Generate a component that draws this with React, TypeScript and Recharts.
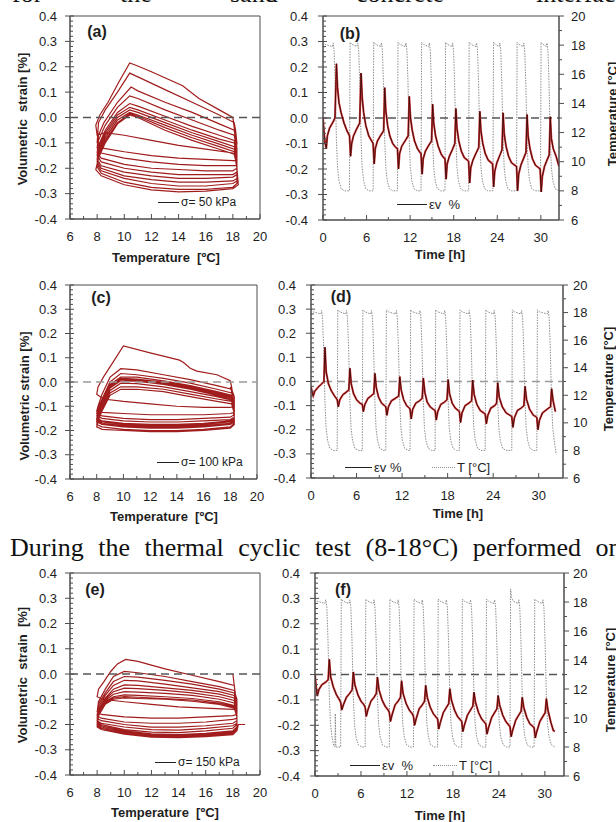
import React from 'react'
import { ComposedChart, Line, XAxis, YAxis, ReferenceLine, ReferenceArea } from 'recharts'

type P = [number, number]

// (a) sigma = 50 kPa : temperature [C] vs volumetric strain [%]
const loop50: P[] = [
  [18.0, 0.0], [18.2, -0.06], [18.25, -0.12], [18.15, -0.06], [18.0, 0.0],
  [17.0, 0.03], [15.5, 0.075], [14.3, 0.125], [12.0, 0.18], [10.9, 0.205], [10.4, 0.215], [9.6, 0.14], [8.8, 0.06], [8.2, 0.01], [7.9, -0.03], [8.0, -0.07],
  [8.6, -0.06], [10, -0.07], [12, -0.09], [14, -0.11], [16, -0.125], [18.0, -0.14], [18.2, -0.15],
  [18.3, -0.1], [18.2, -0.05], [18.1, -0.02],
  [17, 0.01], [15, 0.06], [13, 0.11], [11, 0.16], [10.4, 0.175], [9.5, 0.1], [8.6, 0.03], [8.1, -0.02], [8.0, -0.1],
  [8.3, -0.12], [10, -0.135], [12, -0.15], [14, -0.16], [16, -0.165], [18.0, -0.17], [18.3, -0.17],
  [18.3, -0.12], [18.1, -0.05],
  [17, -0.025], [15, 0.02], [13, 0.06], [11, 0.105], [10.5, 0.12], [9.5, 0.06], [8.5, -0.02], [8.1, -0.07], [8.0, -0.12],
  [8.3, -0.14], [10, -0.16], [12, -0.175], [14, -0.185], [16, -0.19], [18, -0.19], [18.3, -0.19],
  [18.3, -0.13], [18.1, -0.07],
  [17, -0.05], [15, -0.01], [13, 0.03], [11, 0.075], [10.4, 0.085], [9.5, 0.04], [8.6, -0.03], [8.1, -0.09], [8.0, -0.14],
  [8.3, -0.16], [10, -0.185], [12, -0.2], [14, -0.205], [16, -0.21], [18, -0.21], [18.3, -0.2],
  [18.3, -0.14], [18.1, -0.09],
  [17, -0.07], [15, -0.035], [13, 0.005], [11, 0.045], [10.4, 0.055], [9.5, 0.02], [8.6, -0.05], [8.1, -0.11], [8.0, -0.15],
  [8.3, -0.175], [10, -0.2], [12, -0.215], [14, -0.225], [16, -0.225], [18, -0.225], [18.3, -0.215],
  [18.3, -0.15], [18.1, -0.1],
  [17, -0.085], [15, -0.05], [13, -0.01], [11, 0.03], [10.4, 0.04], [9.5, 0.01], [8.6, -0.06], [8.1, -0.12], [8.0, -0.165],
  [8.3, -0.19], [10, -0.215], [12, -0.23], [14, -0.24], [16, -0.24], [18, -0.235], [18.3, -0.225],
  [18.3, -0.16], [18.1, -0.115],
  [17, -0.095], [15, -0.06], [13, -0.02], [11, 0.02], [10.4, 0.03], [9.5, 0.0], [8.6, -0.07], [8.1, -0.13], [8.0, -0.175],
  [8.3, -0.2], [10, -0.23], [12, -0.245], [14, -0.255], [16, -0.255], [18, -0.25], [18.3, -0.24],
  [18.3, -0.17], [18.1, -0.125],
  [17, -0.105], [15, -0.07], [13, -0.03], [11, 0.01], [10.4, 0.02], [9.5, -0.01], [8.6, -0.08], [8.1, -0.14], [8.0, -0.185],
  [8.3, -0.21], [10, -0.24], [12, -0.26], [14, -0.27], [16, -0.27], [18, -0.26], [18.3, -0.25],
  [18.3, -0.18], [18.1, -0.135],
  [17, -0.115], [15, -0.08], [13, -0.04], [11, 0.005], [10.4, 0.015], [9.5, -0.02], [8.6, -0.09], [8.1, -0.15], [8.0, -0.195],
  [8.3, -0.22], [10, -0.255], [12, -0.275], [14, -0.283], [16, -0.283], [18, -0.275], [18.3, -0.26],
  [18.3, -0.19], [18.1, -0.145],
  [17, -0.125], [15, -0.09], [13, -0.05], [11, 0.0], [10.4, 0.01], [9.5, -0.025], [8.6, -0.1], [8.1, -0.16], [7.9, -0.205],
  [8.3, -0.23], [10, -0.265], [12, -0.285], [14, -0.293], [16, -0.29], [18, -0.28], [18.4, -0.265],
  [18.3, -0.2], [18.2, -0.17],
]

// (b) strain and temperature vs time [h]
const strain50: P[] = [
  [0, 0.0], [0.15, -0.06], [0.3, -0.1], [0.45, -0.12], [0.6, -0.07], [0.9, -0.04], [1.3, -0.02], [1.65, 0.0],
  [1.85, 0.213], [2.0, 0.12], [2.2, 0.06], [2.5, 0.02], [2.9, -0.02], [3.3, -0.05], [3.65, -0.07], [3.8, -0.15],
  [3.95, -0.1], [4.2, -0.07], [4.6, -0.045], [5.05, -0.02], [5.24, 0.176], [5.4, 0.08], [5.6, 0.02], [5.9, -0.03], [6.3, -0.07], [6.7, -0.09], [6.9, -0.1], [7.05, -0.18],
  [7.2, -0.12], [7.5, -0.09], [7.9, -0.07], [8.35, -0.05], [8.5, 0.119], [8.65, 0.03], [8.9, -0.03], [9.2, -0.07], [9.6, -0.1], [10.0, -0.115], [10.25, -0.12], [10.4, -0.2],
  [10.55, -0.14], [10.85, -0.11], [11.3, -0.09], [11.73, -0.07], [11.88, 0.085], [12.05, 0.0], [12.3, -0.05], [12.6, -0.09], [13.0, -0.12], [13.35, -0.135], [13.5, -0.14], [13.65, -0.22],
  [13.8, -0.16], [14.1, -0.13], [14.5, -0.11], [14.95, -0.09], [15.1, 0.054], [15.25, -0.02], [15.5, -0.07], [15.85, -0.11], [16.25, -0.14], [16.6, -0.155], [16.8, -0.16], [16.95, -0.24],
  [17.1, -0.18], [17.4, -0.15], [17.8, -0.125], [18.15, -0.1], [18.3, 0.037], [18.45, -0.04], [18.7, -0.09], [19.05, -0.13], [19.45, -0.155], [19.85, -0.165], [20.05, -0.17], [20.2, -0.255],
  [20.35, -0.195], [20.65, -0.165], [21.05, -0.14], [21.45, -0.115], [21.6, 0.026], [21.75, -0.05], [22.0, -0.1], [22.35, -0.14], [22.75, -0.165], [23.15, -0.175], [23.35, -0.18], [23.5, -0.27],
  [23.65, -0.21], [23.95, -0.175], [24.3, -0.15], [24.65, -0.125], [24.8, 0.02], [24.95, -0.06], [25.2, -0.11], [25.55, -0.15], [25.95, -0.175], [26.4, -0.185], [26.65, -0.19], [26.8, -0.285],
  [26.95, -0.22], [27.25, -0.185], [27.6, -0.16], [27.95, -0.135], [28.1, 0.014], [28.25, -0.07], [28.5, -0.12], [28.85, -0.16], [29.25, -0.185], [29.7, -0.195], [29.9, -0.2], [30.05, -0.29],
  [30.2, -0.23], [30.5, -0.19], [30.85, -0.165], [31.15, -0.145], [31.3, 0.005], [31.45, -0.08], [31.7, -0.12], [32.1, -0.15], [32.5, -0.19],
]
const temp50: P[] = [
  [0, 18.2], [0.3, 18.05], [1.3, 17.9], [1.4, 18.15], [1.53, 17.6], [1.67, 15.5], [1.85, 11.5], [2.0, 9.6], [2.2, 8.7], [2.5, 8.15], [2.95, 8.0],
  [3.65, 8.0], [3.73, 18.2], [4.0, 18.05], [4.69, 17.9], [4.79, 18.15], [4.92, 17.6], [5.06, 15.5], [5.24, 11.5], [5.39, 9.6], [5.59, 8.7], [5.89, 8.15], [6.34, 8.0],
  [6.9, 8.0], [6.98, 18.2], [7.25, 18.05], [7.95, 17.9], [8.05, 18.15], [8.18, 17.6], [8.32, 15.5], [8.5, 11.5], [8.65, 9.6], [8.85, 8.7], [9.15, 8.15], [9.6, 8.0],
  [10.25, 8.0], [10.33, 18.2], [10.6, 18.05], [11.33, 17.9], [11.43, 18.15], [11.56, 17.6], [11.7, 15.5], [11.88, 11.5], [12.03, 9.6], [12.23, 8.7], [12.53, 8.15], [12.98, 8.0],
  [13.5, 8.0], [13.58, 18.2], [13.85, 18.05], [14.55, 17.9], [14.65, 18.15], [14.78, 17.6], [14.92, 15.5], [15.1, 11.5], [15.25, 9.6], [15.45, 8.7], [15.75, 8.15], [16.2, 8.0],
  [16.8, 8.0], [16.88, 18.2], [17.15, 18.05], [17.75, 17.9], [17.85, 18.15], [17.98, 17.6], [18.12, 15.5], [18.3, 11.5], [18.45, 9.6], [18.65, 8.7], [18.95, 8.15], [19.4, 8.0],
  [20.05, 8.0], [20.13, 18.2], [20.4, 18.05], [21.05, 17.9], [21.15, 18.15], [21.28, 17.6], [21.42, 15.5], [21.6, 11.5], [21.75, 9.6], [21.95, 8.7], [22.25, 8.15], [22.7, 8.0],
  [23.4, 8.0], [23.48, 18.2], [23.75, 18.05], [24.25, 17.9], [24.35, 18.15], [24.48, 17.6], [24.62, 15.5], [24.8, 11.5], [24.95, 9.6], [25.15, 8.7], [25.45, 8.15], [25.9, 8.0],
  [26.65, 8.0], [26.73, 18.2], [27.0, 18.05], [27.55, 17.9], [27.65, 18.15], [27.78, 17.6], [27.92, 15.5], [28.1, 11.5], [28.25, 9.6], [28.45, 8.7], [28.75, 8.15], [29.2, 8.0],
  [29.95, 8.0], [30.03, 18.2], [30.3, 18.05], [30.75, 17.9], [30.85, 18.15], [30.98, 17.6], [31.12, 15.5], [31.3, 11.5], [31.45, 9.6], [31.65, 8.7], [31.95, 8.15], [32.5, 8.0],
]

// (c) sigma = 100 kPa
const loop100: P[] = [
  [18.0, -0.02], [18.2, -0.06], [18.1, -0.02], [18.0, 0.005],
  [17, 0.03], [15.5, 0.045], [15, 0.057], [14.5, 0.08], [14.2, 0.09], [12, 0.12], [10, 0.149], [9.2, 0.08], [8.5, 0.02], [8.1, -0.02], [8.0, -0.05],
  [8.5, -0.07], [10, -0.08], [12, -0.09], [14, -0.1], [16, -0.105], [18, -0.105], [18.3, -0.1],
  [18.3, -0.06], [18.1, -0.03],
  [17, -0.015], [15, 0.01], [13, 0.03], [11, 0.05], [9.8, 0.055], [9, 0.02], [8.4, -0.05], [8.1, -0.1], [8.0, -0.12],
  [8.4, -0.125], [10, -0.13], [12, -0.135], [14, -0.135], [16, -0.135], [18, -0.13], [18.3, -0.125],
  [18.3, -0.08], [18.1, -0.045],
  [17, -0.03], [15, -0.005], [13, 0.015], [11, 0.03], [9.8, 0.035], [9, 0.0], [8.4, -0.07], [8.1, -0.11], [8.0, -0.13],
  [8.4, -0.14], [10, -0.15], [12, -0.155], [14, -0.155], [16, -0.15], [18, -0.145], [18.3, -0.135],
  [18.3, -0.09], [18.1, -0.055],
  [17, -0.04], [15, -0.015], [13, 0.005], [11, 0.02], [9.8, 0.02], [9, -0.01], [8.4, -0.08], [8.1, -0.12], [8.0, -0.14],
  [8.4, -0.15], [10, -0.16], [12, -0.165], [14, -0.165], [16, -0.16], [18, -0.155], [18.3, -0.145],
  [18.3, -0.1], [18.1, -0.06],
  [17, -0.045], [15, -0.02], [13, 0.0], [11, 0.012], [9.8, 0.015], [9, -0.015], [8.4, -0.09], [8.1, -0.13], [8.0, -0.15],
  [8.4, -0.16], [10, -0.17], [12, -0.175], [14, -0.175], [16, -0.17], [18, -0.16], [18.3, -0.15],
  [18.3, -0.105], [18.1, -0.065],
  [17, -0.05], [15, -0.025], [13, -0.005], [11, 0.007], [9.8, 0.01], [9, -0.02], [8.4, -0.095], [8.1, -0.135], [8.0, -0.155],
  [8.4, -0.165], [10, -0.175], [12, -0.18], [14, -0.18], [16, -0.175], [18, -0.165], [18.3, -0.155],
  [18.3, -0.11], [18.1, -0.07],
  [17, -0.055], [15, -0.03], [13, -0.01], [11, 0.003], [9.8, 0.005], [9, -0.025], [8.4, -0.1], [8.1, -0.14], [8.0, -0.16],
  [8.4, -0.17], [10, -0.18], [12, -0.185], [14, -0.185], [16, -0.18], [18, -0.17], [18.3, -0.16],
  [18.3, -0.115], [18.1, -0.075],
  [17, -0.06], [15, -0.04], [13, -0.02], [11, -0.007], [9.8, -0.005], [9, -0.035], [8.4, -0.105], [8.1, -0.145], [8.0, -0.165],
  [8.4, -0.175], [10, -0.185], [12, -0.19], [14, -0.19], [16, -0.185], [18, -0.175], [18.3, -0.165],
  [18.3, -0.12], [18.1, -0.08],
  [17, -0.07], [15, -0.05], [13, -0.03], [11, -0.02], [9.8, -0.02], [9, -0.045], [8.4, -0.11], [8.1, -0.15], [8.0, -0.175],
  [8.4, -0.185], [10, -0.195], [12, -0.2], [14, -0.2], [16, -0.195], [18, -0.185], [18.3, -0.17],
  [18.3, -0.13], [18.1, -0.09],
  [17, -0.08], [15, -0.06], [13, -0.04], [11, -0.03], [9.8, -0.03], [9, -0.055], [8.4, -0.12], [8.1, -0.16], [8.0, -0.185],
  [8.4, -0.195], [10, -0.2], [12, -0.205], [14, -0.205], [16, -0.2], [18, -0.19], [18.3, -0.175],
  [18.3, -0.14], [18.2, -0.125],
]

// (d)
const strain100: P[] = [
  [0, -0.02], [0.15, -0.045], [0.3, -0.06], [0.5, -0.04], [0.9, -0.025], [1.4, -0.01], [1.7, 0.0], [1.84, 0.142], [2.0, 0.04], [2.3, -0.01], [2.7, -0.04], [3.1, -0.06], [3.45, -0.075], [3.6, -0.105],
  [3.8, -0.075], [4.2, -0.055], [4.6, -0.045], [4.98, -0.035], [5.13, 0.055], [5.3, -0.01], [5.6, -0.05], [6.0, -0.075], [6.45, -0.09], [6.75, -0.095], [6.9, -0.125],
  [7.1, -0.095], [7.5, -0.07], [7.9, -0.06], [8.27, -0.05], [8.42, 0.034], [8.6, -0.025], [8.9, -0.065], [9.3, -0.09], [9.7, -0.1], [9.85, -0.105], [10.0, -0.14],
  [10.2, -0.105], [10.6, -0.08], [11.1, -0.07], [11.55, -0.06], [11.7, 0.02], [11.88, -0.035], [12.2, -0.075], [12.6, -0.1], [12.95, -0.11], [13.05, -0.115], [13.2, -0.155],
  [13.4, -0.115], [13.8, -0.09], [14.3, -0.08], [14.65, -0.07], [14.8, 0.014], [15.0, -0.045], [15.3, -0.085], [15.7, -0.105], [16.1, -0.115], [16.35, -0.12], [16.5, -0.16],
  [16.7, -0.125], [17.1, -0.095], [17.6, -0.085], [17.92, -0.075], [18.07, 0.008], [18.25, -0.05], [18.6, -0.09], [19.0, -0.11], [19.4, -0.12], [19.55, -0.125], [19.7, -0.17],
  [19.9, -0.13], [20.3, -0.1], [20.8, -0.09], [21.15, -0.08], [21.3, 0.006], [21.5, -0.055], [21.85, -0.095], [22.3, -0.12], [22.75, -0.13], [22.95, -0.135], [23.1, -0.175],
  [23.3, -0.14], [23.7, -0.11], [24.2, -0.1], [24.45, -0.09], [24.6, -0.005], [24.8, -0.065], [25.2, -0.105], [25.7, -0.13], [26.2, -0.14], [26.45, -0.145], [26.6, -0.19],
  [26.8, -0.15], [27.2, -0.12], [27.7, -0.11], [28.05, -0.1], [28.2, -0.02], [28.4, -0.075], [28.8, -0.115], [29.3, -0.14], [29.6, -0.145], [29.75, -0.15], [29.9, -0.2],
  [30.1, -0.16], [30.5, -0.13], [31.1, -0.115], [31.55, -0.105], [31.7, -0.03], [31.9, -0.08], [32.2, -0.125],
]
const temp100: P[] = [
  [0, 18.2], [0.3, 18.05], [1.3, 17.9], [1.4, 18.15], [1.52, 17.6], [1.66, 15.5], [1.84, 11.5], [1.99, 9.6], [2.19, 8.7], [2.49, 8.15], [2.94, 8.0],
  [3.45, 8.0], [3.53, 18.2], [3.8, 18.05], [4.58, 17.9], [4.68, 18.15], [4.81, 17.6], [4.95, 15.5], [5.13, 11.5], [5.28, 9.6], [5.48, 8.7], [5.78, 8.15], [6.23, 8.0],
  [6.75, 8.0], [6.83, 18.2], [7.1, 18.05], [7.87, 17.9], [7.97, 18.15], [8.1, 17.6], [8.24, 15.5], [8.42, 11.5], [8.57, 9.6], [8.77, 8.7], [9.07, 8.15], [9.52, 8.0],
  [9.85, 8.0], [9.93, 18.2], [10.2, 18.05], [11.15, 17.9], [11.25, 18.15], [11.38, 17.6], [11.52, 15.5], [11.7, 11.5], [11.85, 9.6], [12.05, 8.7], [12.35, 8.15], [12.8, 8.0],
  [13.05, 8.0], [13.13, 18.2], [13.4, 18.05], [14.25, 17.9], [14.35, 18.15], [14.48, 17.6], [14.62, 15.5], [14.8, 11.5], [14.95, 9.6], [15.15, 8.7], [15.45, 8.15], [15.9, 8.0],
  [16.35, 8.0], [16.43, 18.2], [16.7, 18.05], [17.52, 17.9], [17.62, 18.15], [17.75, 17.6], [17.89, 15.5], [18.07, 11.5], [18.22, 9.6], [18.42, 8.7], [18.72, 8.15], [19.17, 8.0],
  [19.55, 8.0], [19.63, 18.2], [19.9, 18.05], [20.75, 17.9], [20.85, 18.15], [20.98, 17.6], [21.12, 15.5], [21.3, 11.5], [21.45, 9.6], [21.65, 8.7], [21.95, 8.15], [22.4, 8.0],
  [22.95, 8.0], [23.03, 18.2], [23.3, 18.05], [24.05, 17.9], [24.15, 18.15], [24.28, 17.6], [24.42, 15.5], [24.6, 11.5], [24.75, 9.6], [24.95, 8.7], [25.25, 8.15], [25.7, 8.0],
  [26.45, 8.0], [26.53, 18.2], [26.8, 18.05], [27.65, 17.9], [27.75, 18.15], [27.88, 17.6], [28.02, 15.5], [28.2, 11.5], [28.35, 9.6], [28.55, 8.7], [28.85, 8.15], [29.3, 8.0],
  [29.75, 8.0], [29.83, 18.2], [30.1, 18.05], [31.15, 17.9], [31.25, 18.15], [31.38, 17.6], [31.52, 15.5], [31.7, 11.5], [31.85, 9.6], [32.05, 8.7], [32.3, 7.7],
]

// (e) sigma = 150 kPa
const loop150: P[] = [
  [18.0, 0.0], [18.2, -0.085], [18.1, -0.045],
  [17, -0.03], [15, -0.005], [13, 0.02], [11, 0.05], [10.1, 0.058], [9.5, 0.04], [9, 0.01], [8.5, -0.03], [8.1, -0.06], [8.0, -0.09],
  [8.4, -0.1], [10, -0.11], [12, -0.12], [14, -0.13], [16, -0.135], [18, -0.14], [18.3, -0.14],
  [18.3, -0.1], [18.1, -0.065],
  [17, -0.05], [15, -0.03], [13, -0.01], [11, 0.005], [10, 0.01], [9.2, -0.01], [8.6, -0.06], [8.1, -0.11], [8.0, -0.15],
  [8.3, -0.16], [10, -0.17], [12, -0.175], [14, -0.175], [16, -0.17], [18, -0.165], [18.3, -0.16],
  [18.3, -0.115], [18.1, -0.075],
  [17, -0.06], [15, -0.04], [13, -0.025], [11, -0.012], [10, -0.01], [9.2, -0.03], [8.6, -0.075], [8.1, -0.12], [8.0, -0.165],
  [8.3, -0.175], [10, -0.19], [12, -0.195], [14, -0.195], [16, -0.19], [18, -0.18], [18.3, -0.175],
  [18.3, -0.125], [18.1, -0.085],
  [17, -0.07], [15, -0.055], [13, -0.04], [11, -0.027], [10, -0.025], [9.2, -0.045], [8.6, -0.085], [8.1, -0.13], [8.0, -0.175],
  [8.3, -0.185], [10, -0.2], [12, -0.21], [14, -0.21], [16, -0.205], [18, -0.195], [18.3, -0.185],
  [18.3, -0.135], [18.1, -0.095],
  [17, -0.08], [15, -0.065], [13, -0.055], [11, -0.045], [10, -0.043], [9.2, -0.06], [8.6, -0.095], [8.1, -0.14], [8.0, -0.185],
  [8.3, -0.195], [10, -0.21], [12, -0.22], [14, -0.222], [16, -0.215], [18, -0.205], [18.3, -0.195],
  [18.3, -0.145], [18.1, -0.105],
  [17, -0.09], [15, -0.075], [13, -0.065], [11, -0.058], [10, -0.056], [9.2, -0.07], [8.6, -0.1], [8.1, -0.145], [8.0, -0.19],
  [8.3, -0.2], [10, -0.22], [12, -0.23], [14, -0.232], [16, -0.225], [18, -0.215], [18.3, -0.2],
  [18.3, -0.15], [18.1, -0.115],
  [17, -0.1], [15, -0.085], [13, -0.077], [11, -0.072], [10, -0.07], [9.2, -0.08], [8.6, -0.105], [8.1, -0.15], [8.0, -0.195],
  [8.3, -0.205], [10, -0.225], [12, -0.237], [14, -0.24], [16, -0.235], [18, -0.225], [18.3, -0.21],
  [18.3, -0.16], [18.1, -0.125],
  [17, -0.11], [15, -0.097], [13, -0.09], [11, -0.085], [10, -0.083], [9.2, -0.09], [8.6, -0.11], [8.1, -0.155], [8.0, -0.2],
  [8.3, -0.21], [10, -0.23], [12, -0.242], [14, -0.245], [16, -0.24], [18, -0.23], [18.3, -0.215],
  [18.3, -0.165], [18.1, -0.13],
  [17, -0.115], [15, -0.103], [13, -0.097], [11, -0.092], [10, -0.09], [9.2, -0.095], [8.6, -0.115], [8.1, -0.16], [8.0, -0.205],
  [8.3, -0.215], [10, -0.235], [12, -0.247], [14, -0.25], [16, -0.245], [18, -0.235], [18.3, -0.22],
  [18.3, -0.17], [18.1, -0.135],
  [17, -0.12], [15, -0.108], [13, -0.1], [11, -0.097], [10, -0.095], [9.2, -0.1], [8.6, -0.12], [8.1, -0.165], [8.0, -0.21],
  [8.3, -0.22], [10, -0.238], [12, -0.25], [14, -0.252], [16, -0.248], [18, -0.24], [18.3, -0.225],
  [18.4, -0.2], [18.9, -0.2],
]

// (f)
const strain150: P[] = [
  [0, 0.0], [0.15, -0.05], [0.3, -0.085], [0.5, -0.06], [0.9, -0.04], [1.4, -0.03], [1.72, -0.02], [1.87, 0.06], [2.05, -0.01], [2.4, -0.05], [2.8, -0.08], [3.2, -0.1], [3.35, -0.11], [3.5, -0.14],
  [3.7, -0.12], [4.1, -0.09], [4.5, -0.075], [4.85, -0.06], [5.0, 0.01], [5.2, -0.04], [5.6, -0.08], [6.0, -0.105], [6.4, -0.12], [6.55, -0.13], [6.7, -0.165],
  [6.9, -0.14], [7.3, -0.105], [7.7, -0.09], [8.0, -0.075], [8.15, -0.01], [8.35, -0.06], [8.75, -0.1], [9.15, -0.125], [9.55, -0.14], [9.7, -0.15], [9.85, -0.185],
  [10.05, -0.16], [10.45, -0.12], [10.85, -0.105], [11.15, -0.09], [11.3, -0.025], [11.5, -0.075], [11.9, -0.115], [12.3, -0.14], [12.7, -0.155], [12.85, -0.165], [13.0, -0.2],
  [13.2, -0.175], [13.6, -0.135], [14.0, -0.12], [14.3, -0.105], [14.45, -0.043], [14.65, -0.09], [15.05, -0.13], [15.45, -0.155], [15.85, -0.17], [16.0, -0.175], [16.15, -0.215],
  [16.35, -0.19], [16.75, -0.15], [17.15, -0.13], [17.45, -0.115], [17.6, -0.056], [17.8, -0.1], [18.2, -0.14], [18.6, -0.165], [19.0, -0.18], [19.15, -0.185], [19.3, -0.225],
  [19.5, -0.2], [19.9, -0.16], [20.3, -0.14], [20.6, -0.125], [20.75, -0.07], [20.95, -0.11], [21.35, -0.15], [21.75, -0.175], [22.15, -0.19], [22.3, -0.195], [22.45, -0.235],
  [22.65, -0.21], [23.05, -0.17], [23.45, -0.15], [23.75, -0.135], [23.9, -0.083], [24.1, -0.12], [24.5, -0.16], [24.9, -0.185], [25.3, -0.2], [25.45, -0.205], [25.6, -0.245],
  [25.8, -0.22], [26.2, -0.18], [26.6, -0.16], [26.9, -0.145], [27.05, -0.09], [27.25, -0.13], [27.65, -0.17], [28.05, -0.195], [28.45, -0.205], [28.6, -0.21], [28.75, -0.25],
  [28.95, -0.225], [29.35, -0.185], [29.75, -0.165], [30.05, -0.15], [30.2, -0.095], [30.4, -0.14], [30.8, -0.19], [31.1, -0.22], [31.3, -0.225],
]
const temp150: P[] = [
  [0, 18.2], [0.3, 18.05], [1.3, 17.9], [1.4, 18.15], [1.55, 17.6], [1.69, 15.5], [1.87, 11.5], [2.02, 9.6], [2.22, 8.7], [2.45, 8.1], [2.6, 8.0], [2.65, 10.3], [2.72, 8.0], [3.35, 8.0],
  [3.43, 18.2], [3.7, 18.05], [4.45, 17.9], [4.55, 18.15], [4.68, 17.6], [4.82, 15.5], [5.0, 11.5], [5.15, 9.6], [5.35, 8.7], [5.65, 8.15], [6.1, 8.0], [6.55, 8.0],
  [6.63, 18.2], [6.9, 18.05], [7.6, 17.9], [7.7, 18.15], [7.83, 17.6], [7.97, 15.5], [8.15, 11.5], [8.3, 9.6], [8.5, 8.7], [8.8, 8.15], [9.25, 8.0], [9.7, 8.0],
  [9.78, 18.2], [10.05, 18.05], [10.75, 17.9], [10.85, 18.15], [10.98, 17.6], [11.12, 15.5], [11.3, 11.5], [11.45, 9.6], [11.65, 8.7], [11.95, 8.15], [12.4, 8.0], [12.85, 8.0],
  [12.93, 18.2], [13.2, 18.05], [13.9, 17.9], [14.0, 18.15], [14.13, 17.6], [14.27, 15.5], [14.45, 11.5], [14.6, 9.6], [14.8, 8.7], [15.1, 8.15], [15.55, 8.0], [16.0, 8.0],
  [16.08, 18.2], [16.35, 18.05], [17.05, 17.9], [17.15, 18.15], [17.28, 17.6], [17.42, 15.5], [17.6, 11.5], [17.75, 9.6], [17.95, 8.7], [18.25, 8.15], [18.7, 8.0], [19.15, 8.0],
  [19.23, 18.2], [19.5, 18.05], [20.2, 17.9], [20.3, 18.15], [20.43, 17.6], [20.57, 15.5], [20.75, 11.5], [20.9, 9.6], [21.1, 8.7], [21.4, 8.15], [21.85, 8.0], [22.3, 8.0],
  [22.38, 18.2], [22.65, 18.05], [23.35, 17.9], [23.45, 18.15], [23.58, 17.6], [23.72, 15.5], [23.9, 11.5], [24.05, 9.6], [24.25, 8.7], [24.55, 8.15], [25.0, 8.0], [25.45, 8.0],
  [25.53, 18.9], [25.65, 18.3], [25.9, 18.05], [26.5, 17.9], [26.6, 18.15], [26.73, 17.6], [26.87, 15.5], [27.05, 11.5], [27.2, 9.6], [27.4, 8.7], [27.7, 8.15], [28.15, 8.0], [28.6, 8.0],
  [28.68, 18.2], [28.95, 18.05], [29.65, 17.9], [29.75, 18.15], [29.88, 17.6], [30.02, 15.5], [30.2, 11.5], [30.35, 9.6], [30.55, 8.7], [30.85, 8.15], [31.3, 8.0],
]

// axis ticks (majors get a label, the rest are minor marks)
const strainTicks = Array.from({ length: 41 }, (_, i) => (i - 20) / 50)
const tempTicks = Array.from({ length: 15 }, (_, i) => 6 + i)
const timeTicks = Array.from({ length: 11 }, (_, i) => i * 3)

const AXIS = '#4d4d4d'
const INK = '#1e1e1e'
const LOOP = '#a11d1d'
const EV_RED = '#d43b3b'
const EV_DARK = '#3a0707'
const TEMP = '#8c8c8c'
const FONT = '"Liberation Sans", Arial, sans-serif'
const SERIF = '"Liberation Serif", "Times New Roman", serif'

const toXY = (pts: P[]) => pts.map(([x, y]) => ({ x, y }))
const isMultiple = (v: number, step: number) => Math.abs(v / step - Math.round(v / step)) < 1e-6

const leftTick = (gap: number) => (p: any) => {
  const v = p.payload.value
  const major = isMultiple(v, 0.1)
  return (
    <g>
      <line x1={major ? p.x - 5 : p.x} x2={major ? p.x + 4 : p.x + 3} y1={p.y} y2={p.y} stroke={AXIS} />
      {major && (
        <text x={p.x - gap} y={p.y + 4.5} textAnchor="end" fontSize={13} fill={INK}>{v.toFixed(1)}</text>
      )}
    </g>
  )
}

const bottomTick = (step: number) => (p: any) => {
  const v = p.payload.value
  const major = isMultiple(v, step)
  return (
    <g>
      <line x1={p.x} x2={p.x} y1={p.y} y2={major ? p.y - 5 : p.y - 3} stroke={AXIS} />
      {major && (
        <text x={p.x} y={p.y + 21.5} textAnchor="middle" fontSize={13} fill={INK}>{v}</text>
      )}
    </g>
  )
}

const rightTick = (gap: number) => (p: any) => {
  const v = p.payload.value
  const major = isMultiple(v, 2)
  return (
    <g>
      <line x1={p.x} x2={major ? p.x + 5 : p.x + 3} y1={p.y} y2={p.y} stroke={AXIS} />
      {major && (
        <text x={p.x + gap} y={p.y + 4.5} textAnchor="start" fontSize={13} fill={INK}>{v}</text>
      )}
    </g>
  )
}

type Box = { cl: number; ct: number; cw: number; ch: number; l: number; t: number; r: number; b: number }

function LoopPanel({ box, pts, zero, gap }: { box: Box; pts: P[]; zero: string; gap: number }) {
  return (
    <div style={{ position: 'absolute', left: box.cl, top: box.ct }}>
      <ComposedChart
        width={box.cw}
        height={box.ch}
        margin={{ top: box.t - box.ct, right: box.cl + box.cw - box.r, bottom: 0, left: 0 }}
      >
        <XAxis
          xAxisId="x" type="number" dataKey="x" domain={[6, 20]} ticks={tempTicks} interval={0}
          height={box.ct + box.ch - box.b} tickSize={0} tickMargin={0} tickLine={false}
          axisLine={{ stroke: AXIS }} tick={bottomTick(2)} allowDataOverflow
        />
        <YAxis
          yAxisId="e" type="number" domain={[-0.4, 0.4]} ticks={strainTicks} interval={0}
          width={box.l - box.cl} tickSize={0} tickMargin={0} tickLine={false}
          axisLine={{ stroke: AXIS }} tick={leftTick(gap)} allowDataOverflow
        />
        <ReferenceArea xAxisId="x" yAxisId="e" x1={6} x2={20} y1={-0.4} y2={0.4} fill="none" stroke={AXIS} />
        <Line
          xAxisId="x" yAxisId="e" data={toXY(pts)} dataKey="y" type="linear" stroke={LOOP}
          strokeWidth={1.2} dot={false} activeDot={false} isAnimationActive={false}
        />
        <ReferenceLine xAxisId="x" yAxisId="e" y={0} stroke={zero} strokeWidth={1.6} strokeDasharray="8 5" />
      </ComposedChart>
    </div>
  )
}

function TimePanel({ box, strain, temp, tMax, zero, gap, rgap }: {
  box: Box; strain: P[]; temp: P[]; tMax: number; zero: string; gap: number; rgap: number
}) {
  return (
    <div style={{ position: 'absolute', left: box.cl, top: box.ct }}>
      <ComposedChart
        width={box.cw}
        height={box.ch}
        margin={{ top: box.t - box.ct, right: 0, bottom: 0, left: 0 }}
      >
        <XAxis
          xAxisId="x" type="number" dataKey="x" domain={[0, tMax]} ticks={timeTicks} interval={0}
          height={box.ct + box.ch - box.b} tickSize={0} tickMargin={0} tickLine={false}
          axisLine={{ stroke: AXIS }} tick={bottomTick(6)} allowDataOverflow
        />
        <YAxis
          yAxisId="e" type="number" domain={[-0.4, 0.4]} ticks={strainTicks} interval={0}
          width={box.l - box.cl} tickSize={0} tickMargin={0} tickLine={false}
          axisLine={{ stroke: AXIS }} tick={leftTick(gap)} allowDataOverflow
        />
        <YAxis
          yAxisId="T" orientation="right" type="number" domain={[6, 20]} ticks={tempTicks} interval={0}
          width={box.cl + box.cw - box.r} tickSize={0} tickMargin={0} tickLine={false}
          axisLine={{ stroke: AXIS }} tick={rightTick(rgap)} allowDataOverflow
        />
        <ReferenceArea xAxisId="x" yAxisId="e" x1={0} x2={tMax} y1={-0.4} y2={0.4} fill="none" stroke={AXIS} />
        <Line
          xAxisId="x" yAxisId="T" data={toXY(temp)} dataKey="y" type="linear" stroke={TEMP}
          strokeWidth={1} strokeDasharray="1.5 1.2" dot={false} activeDot={false} isAnimationActive={false}
        />
        <ReferenceLine xAxisId="x" yAxisId="e" y={0} stroke={zero} strokeWidth={1.6} strokeDasharray="8 5" />
        <Line
          xAxisId="x" yAxisId="e" data={toXY(strain)} dataKey="y" type="linear" stroke={EV_RED}
          strokeWidth={2} dot={false} activeDot={false} isAnimationActive={false}
        />
        <Line
          xAxisId="x" yAxisId="e" data={toXY(strain)} dataKey="y" type="linear" stroke={EV_DARK}
          strokeWidth={0.9} dot={false} activeDot={false} isAnimationActive={false}
        />
      </ComposedChart>
    </div>
  )
}

const Txt = ({ x, y, size = 13, bold = true, rot = false, children }: any) => (
  <div
    style={{
      position: 'absolute', left: x, top: y, whiteSpace: 'pre', lineHeight: 1,
      fontSize: size, fontWeight: bold ? 700 : 400, color: INK,
      transform: `translate(-50%, -50%)${rot ? ' rotate(-90deg)' : ''}`,
    }}
  >
    {children}
  </div>
)

const Key = ({ x1, x2, y, text, dotted = false, size = 12 }: any) => (
  <>
    <div
      style={{
        position: 'absolute', left: x1, top: y, width: x2 - x1,
        borderTop: dotted ? `1px dotted ${TEMP}` : `1px solid #222`,
      }}
    />
    <div
      style={{
        position: 'absolute', left: x2 + 2, top: y, transform: 'translateY(-50%)',
        fontSize: size, lineHeight: 1, whiteSpace: 'pre', color: INK,
      }}
    >
      {text}
    </div>
  </>
)

const Word = ({ x, baseline, children }: any) => (
  <span
    style={{
      position: 'absolute', left: x, top: baseline - 21.8, fontFamily: SERIF,
      fontSize: 26, lineHeight: '26px', whiteSpace: 'nowrap', color: '#111',
    }}
  >
    {children}
  </span>
)

export default function App() {
  return (
    <div
      style={{
        position: 'absolute', left: 0, top: 0, width: 616, height: 822, overflow: 'hidden',
        background: '#fff', fontFamily: FONT,
      }}
    >
      {/* running text of the page, cut at the top as in the scan */}
      <Word x={12} baseline={3}>for</Word>
      <Word x={120} baseline={3}>the</Word>
      <Word x={230} baseline={3}>sand</Word>
      <Word x={356} baseline={3}>concrete</Word>
      <Word x={536} baseline={3}>interface</Word>

      <LoopPanel box={{ cl: 0, ct: 0, cw: 280, ch: 250, l: 70, t: 16, r: 260, b: 219 }} pts={loop50} zero="#555" gap={13} />
      <TimePanel
        box={{ cl: 265, ct: 0, cw: 351, ch: 250, l: 323, t: 16, r: 559, b: 220 }}
        strain={strain50} temp={temp50} tMax={32.5} zero="#555" gap={15} rgap={12}
      />
      <LoopPanel box={{ cl: 0, ct: 270, cw: 280, ch: 250, l: 70, t: 285, r: 257, b: 479 }} pts={loop100} zero="#9a9a9a" gap={13} />
      <TimePanel
        box={{ cl: 265, ct: 270, cw: 351, ch: 250, l: 311, t: 285, r: 563, b: 478 }}
        strain={strain100} temp={temp100} tMax={33.2} zero="#9a9a9a" gap={15} rgap={10}
      />
      <LoopPanel box={{ cl: 0, ct: 560, cw: 280, ch: 250, l: 70, t: 573, r: 260, b: 775 }} pts={loop150} zero="#555" gap={13} />
      <TimePanel
        box={{ cl: 265, ct: 560, cw: 351, ch: 250, l: 315, t: 573, r: 564, b: 776 }}
        strain={strain150} temp={temp150} tMax={32.5} zero="#555" gap={15} rgap={9}
      />

      <div
        style={{
          position: 'absolute', left: 10, top: 557 - 21.8, fontFamily: SERIF, fontSize: 26,
          lineHeight: '26px', wordSpacing: 8, whiteSpace: 'nowrap', color: '#111',
        }}
      >
        During the thermal cyclic test (8-18°C) performed on
      </div>

      {/* panel letters */}
      <Txt x={97} y={32} size={16}>(a)</Txt>
      <Txt x={350} y={34} size={16}>(b)</Txt>
      <Txt x={101} y={298} size={16}>(c)</Txt>
      <Txt x={341} y={297} size={16}>(d)</Txt>
      <Txt x={95} y={590} size={16}>(e)</Txt>
      <Txt x={343} y={590} size={16}>(f)</Txt>

      {/* axis titles */}
      <Txt x={22} y={119} rot>{'Volumetric  strain [%]'}</Txt>
      <Txt x={24} y={396} rot>{'Volumetric strain [%]'}</Txt>
      <Txt x={22} y={675} rot>{'Volumetric  strain  [%]'}</Txt>
      <Txt x={166} y={257}>{'Temperature  [ºC]'}</Txt>
      <Txt x={164} y={516}>{'Temperature  [ºC]'}</Txt>
      <Txt x={165} y={812}>{'Temperature  [ºC]'}</Txt>
      <Txt x={440} y={254}>Time [h]</Txt>
      <Txt x={458} y={513}>Time [h]</Txt>
      <Txt x={440} y={815}>Time [h]</Txt>
      <Txt x={612} y={114} rot>Temperature [°C]</Txt>
      <Txt x={608} y={379} rot>Temperature [°C]</Txt>
      <Txt x={610} y={680} rot>Temperature [°C]</Txt>

      {/* legends */}
      <Key x1={158} x2={179} y={202} text="σ= 50 kPa" />
      <Key x1={397} x2={427} y={204} text="εv  %" size={13} />
      <Key x1={157} x2={179} y={462} text="σ= 100 kPa" />
      <Key x1={345} x2={372} y={467} text="εv %" size={13} />
      <Key x1={432} x2={455} y={467} text="T [°C]" dotted size={13} />
      <Key x1={155} x2={176} y={762} text="σ= 150 kPa" />
      <Key x1={350} x2={380} y={765} text="εv  %" size={13} />
      <Key x1={433} x2={457} y={765} text="T [°C]" dotted size={13} />
    </div>
  )
}
